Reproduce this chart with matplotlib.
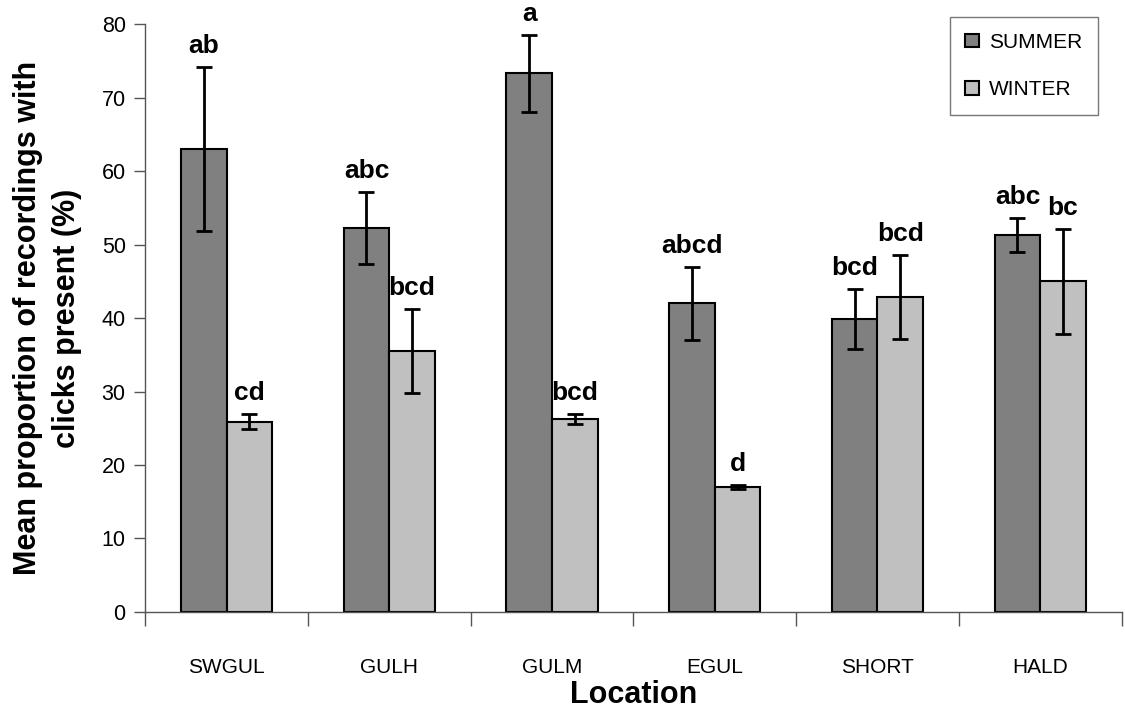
import numpy as np
import matplotlib
matplotlib.use('Agg')
from matplotlib import pyplot as plt

# data
locations = ['SWGUL', 'GULH', 'GULM', 'EGUL', 'SHORT', 'HALD']
summer = [63.0, 52.3, 73.3, 42.0, 39.9, 51.3]
summer_err = [11.2, 4.9, 5.2, 5.0, 4.1, 2.3]
winter = [25.9, 35.5, 26.3, 17.0, 42.9, 45.0]
winter_err = [1.0, 5.7, 0.7, 0.3, 5.7, 7.1]
summer_letters = ['ab', 'abc', 'a', 'abcd', 'bcd', 'abc']
winter_letters = ['cd', 'bcd', 'bcd', 'd', 'bcd', 'bc']

plt.rcParams['font.family'] = ['Liberation Sans', 'DejaVu Sans']

x = np.arange(len(locations))
w = 0.28

f = plt.figure(figsize=(11.25, 7.14), dpi=100)
ax = f.add_axes([0.129, 0.143, 0.868, 0.823])

ekw = dict(elinewidth=2, capsize=5.5, capthick=2, ecolor='black')
ax.bar(x - w / 2, summer, w, yerr=summer_err, color='#808080', edgecolor='black',
       linewidth=1.5, label='SUMMER', error_kw=ekw)
ax.bar(x + w / 2, winter, w, yerr=winter_err, color='#c0c0c0', edgecolor='black',
       linewidth=1.5, label='WINTER', error_kw=ekw)

# significance letters
for i in range(len(x)):
    ax.text(x[i] - w / 2, summer[i] + summer_err[i] + 1.2, summer_letters[i],
            ha='center', va='bottom', fontsize=19, fontweight='bold')
    ax.text(x[i] + w / 2, winter[i] + winter_err[i] + 1.2, winter_letters[i],
            ha='center', va='bottom', fontsize=19, fontweight='bold')

ax.set_xlim(-0.5, 5.5)
ax.set_ylim(0, 80)
ax.set_yticks(np.arange(0, 81, 10))
ax.set_xticks(x)
ax.set_xticklabels(locations, fontsize=15)
ax.set_xticks(np.arange(-0.5, 5.6, 1), minor=True)
ax.tick_params(axis='x', which='major', length=0, pad=33)
ax.tick_params(axis='x', which='minor', length=10, width=1, color='#555555', direction='out')
ax.tick_params(axis='y', length=8, width=1, color='#555555', labelsize=15.5, pad=6)

for s in ['top', 'right']:
    ax.spines[s].set_visible(False)
for s in ['left', 'bottom']:
    ax.spines[s].set_color('#555555')
    ax.spines[s].set_linewidth(1)

ax.set_ylabel('Mean proportion of recordings with\nclicks present (%)', fontsize=22,
              fontweight='bold', labelpad=14, linespacing=1.4)
ax.set_xlabel('Location', fontsize=22, fontweight='bold', labelpad=2)

leg = ax.legend(loc='upper right', bbox_to_anchor=(0.976, 1.012), fontsize=15,
                frameon=True, fancybox=False, edgecolor='#555555', labelspacing=1.35,
                handlelength=0.65, handleheight=0.65, handletextpad=0.5,
                borderpad=0.75, borderaxespad=0)
leg.get_frame().set_linewidth(1)

plt.savefig('out.png', dpi=100)
